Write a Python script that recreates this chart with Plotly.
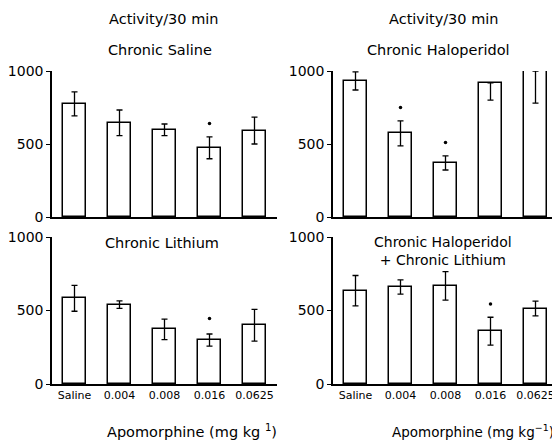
import plotly.graph_objects as go

# The page body has an 8px default margin, so the figure is made 8px smaller
# and all layout positions are given in window pixels minus that offset.
OFF = 8
W, H = 560 - OFF, 443 - OFF

doses = ["Saline", "0.004", "0.008", "0.016", "0.0625"]

# Chronic Saline
sal_vals = [775, 645, 597, 474, 592]
sal_err_plus = [82, 88, 40, 75, 92]
sal_err_minus = [82, 88, 40, 75, 92]
sal_star = [None, None, None, 640, None]

# Chronic Haloperidol
hal_vals = [932, 575, 370, 918, 1000]
hal_err_plus = [62, 83, 48, 0, 0]
hal_err_minus = [62, 88, 48, 118, 220]
hal_star = [None, 750, 510, None, None]

# Chronic Lithium
li_vals = [583, 540, 372, 298, 402]
li_err_plus = [88, 25, 70, 42, 105]
li_err_minus = [88, 25, 70, 40, 110]
li_star = [None, None, None, 445, None]

# Chronic Haloperidol + Chronic Lithium
hl_vals = [636, 660, 670, 362, 512]
hl_err_plus = [102, 48, 95, 92, 52]
hl_err_minus = [104, 48, 100, 98, 48]
hl_star = [None, None, None, 545, None]

yticks = [0, 500, 1000]

FONT = "DejaVu Sans"

panels = [
    (sal_vals, sal_err_plus, sal_err_minus, sal_star, 1, 1),
    (hal_vals, hal_err_plus, hal_err_minus, hal_star, 1, 2),
    (li_vals, li_err_plus, li_err_minus, li_star, 2, 1),
    (hl_vals, hl_err_plus, hl_err_minus, hl_star, 2, 2),
]

fig = go.Figure()

def px_x(x):
    return (x - OFF) / W

def px_y(y):
    return (H - (y - OFF)) / H

xdom = {1: [px_x(52), px_x(277)], 2: [px_x(333), px_x(558)]}
ydom = {1: [px_y(217), px_y(71)], 2: [px_y(384), px_y(237)]}

for i, (vals, ep, em, star, r, c) in enumerate(panels):
    n = i + 1
    xa = "x" if n == 1 else f"x{n}"
    ya = "y" if n == 1 else f"y{n}"
    fig.add_trace(go.Bar(
        x=list(range(len(doses))), y=vals, width=0.5,
        marker=dict(color="white", line=dict(color="black", width=1.5)),
        error_y=dict(type="data", symmetric=False, array=ep, arrayminus=em,
                     color="black", thickness=1.3, width=3),
        xaxis=xa, yaxis=ya, showlegend=False, hoverinfo="skip",
    ))
    sx = [k for k, s in enumerate(star) if s is not None]
    sy = [s for s in star if s is not None]
    fig.add_trace(go.Scatter(
        x=sx, y=sy, mode="markers",
        marker=dict(color="black", size=3.5, symbol="circle"),
        xaxis=xa, yaxis=ya, showlegend=False, hoverinfo="skip",
    ))
    xkey = "xaxis" if n == 1 else f"xaxis{n}"
    ykey = "yaxis" if n == 1 else f"yaxis{n}"
    fig.layout[xkey] = dict(
        domain=xdom[c], anchor=ya, range=[-0.5, 4.5], automargin=False,
        tickmode="array",
        tickvals=list(range(len(doses))) if r == 2 else [],
        ticktext=doses if r == 2 else [],
        showticklabels=(r == 2), ticks="",
        showline=True, linecolor="black", linewidth=1.5,
        showgrid=False, zeroline=False, fixedrange=True,
        tickfont=dict(family=FONT, size=11, color="black"),
    )
    fig.layout[ykey] = dict(
        domain=ydom[r], anchor=xa, range=[0, 1000], automargin=False,
        tickmode="array", tickvals=yticks, ticktext=[str(t) for t in yticks],
        ticks="outside", ticklen=4, tickwidth=1.3, tickcolor="black",
        showline=True, linecolor="black", linewidth=1.5,
        showgrid=False, zeroline=False, fixedrange=True,
        tickfont=dict(family=FONT, size=14, color="black"),
    )

def ann(text, x, y, size=13):
    fig.add_annotation(text=text, x=px_x(x), y=px_y(y), xref="paper", yref="paper",
                       xanchor="center", yanchor="middle", showarrow=False,
                       font=dict(family=FONT, size=size, color="black"))

ann("Activity/30 min", 164, 19, 14.5)
ann("Activity/30 min", 444, 19, 14.5)
ann("Chronic Saline", 160, 50, 14.5)
ann("Chronic Haloperidol", 438, 50, 14.5)
ann("Chronic Lithium", 162, 243, 14.5)
ann("Chronic Haloperidol<br>+ Chronic Lithium", 443, 251, 14)
ann("Apomorphine (mg kg <sup>1</sup>)", 192, 431, 14.5)
ann("Apomorphine (mg kg<sup>−1</sup>)", 473, 431, 13.5)

fig.update_layout(
    template="none",
    width=W, height=H, margin=dict(l=0, r=0, t=0, b=0, autoexpand=False),
    paper_bgcolor="white", plot_bgcolor="white", bargap=0,
)

fig.write_html("out.html")
